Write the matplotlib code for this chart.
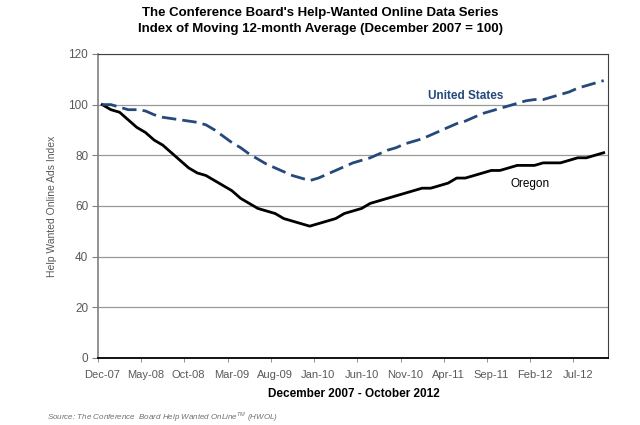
import numpy as np
import matplotlib
matplotlib.use("Agg")
import matplotlib.pyplot as plt

plt.rcParams['font.family'] = ['Liberation Sans', 'DejaVu Sans']

# month labels, Dec-07 .. Oct-12 (59 months)
months = ["Dec-07", "Jan-08", "Feb-08", "Mar-08", "Apr-08", "May-08", "Jun-08", "Jul-08",
          "Aug-08", "Sep-08", "Oct-08", "Nov-08", "Dec-08", "Jan-09", "Feb-09", "Mar-09",
          "Apr-09", "May-09", "Jun-09", "Jul-09", "Aug-09", "Sep-09", "Oct-09", "Nov-09",
          "Dec-09", "Jan-10", "Feb-10", "Mar-10", "Apr-10", "May-10", "Jun-10", "Jul-10",
          "Aug-10", "Sep-10", "Oct-10", "Nov-10", "Dec-10", "Jan-11", "Feb-11", "Mar-11",
          "Apr-11", "May-11", "Jun-11", "Jul-11", "Aug-11", "Sep-11", "Oct-11", "Nov-11",
          "Dec-11", "Jan-12", "Feb-12", "Mar-12", "Apr-12", "May-12", "Jun-12", "Jul-12",
          "Aug-12", "Sep-12", "Oct-12"]

oregon = [100, 98, 97, 94, 91, 89, 86, 84, 81, 78, 75, 73, 72, 70, 68, 66, 63, 61, 59, 58,
          57, 55, 54, 53, 52, 53, 54, 55, 57, 58, 59, 61, 62, 63, 64, 65, 66, 67, 67, 68,
          69, 71, 71, 72, 73, 74, 74, 75, 76, 76, 76, 77, 77, 77, 78, 79, 79, 80, 81]

united_states = [100, 100, 99, 98, 98, 97.5, 96, 95, 94.5, 94, 93.5, 93, 92, 90, 87.5, 85,
                 83, 80.5, 78.5, 76.5, 75, 73.5, 72, 71, 70, 71, 72.5, 74, 75.5, 77, 78, 79,
                 80.5, 82, 83, 84.5, 85.5, 86.5, 88, 89.5, 91, 92.5, 93.5, 95, 96.5, 97.5,
                 98.5, 99.5, 100.5, 101.5, 102, 102, 103, 104, 105, 106.5, 107.5, 108.5, 109.5]

y_ticks = [0, 20, 40, 60, 80, 100, 120]

gray = "#595959"
us_color = "#24497A"

fig = plt.figure(figsize=(6.4, 4.25), dpi=100)
ax = fig.add_axes([0.153, 0.158, 0.797, 0.715])

x = np.arange(len(months))
ax.plot(x, oregon, color="black", linewidth=2.0, solid_joinstyle="round")
ax.plot(x, united_states, color=us_color, linewidth=2.0, dashes=(5.2, 2.2))

ax.set_xlim(-0.5, len(months) - 0.5)
ax.set_ylim(0, 120)

# horizontal gridlines
ax.set_yticks(y_ticks)
ax.set_yticklabels([str(v) for v in y_ticks], color=gray, fontsize=8.5)
ax.yaxis.grid(True, color="#999999", linewidth=0.9)
ax.set_axisbelow(True)

# x labels centred on categories, tick marks between them
lab_pos = x[::5]
ax.set_xticks(lab_pos)
ax.set_xticklabels([months[i] for i in lab_pos], color=gray, fontsize=8)
ax.tick_params(axis="x", length=0, pad=9)
ax.set_xticks(lab_pos - 0.5, minor=True)
ax.tick_params(axis="x", which="minor", length=3, direction="out", color="#808080")
ax.tick_params(axis="y", length=4, direction="out", color="#808080", pad=3)

ax.spines["left"].set_color("#808080")
ax.spines["left"].set_linewidth(1.2)
ax.spines["bottom"].set_color("black")
ax.spines["bottom"].set_linewidth(1.3)
ax.spines["right"].set_color("#404040")
ax.spines["top"].set_color("#404040")

ax.set_ylabel("Help Wanted Online Ads Index", color=gray, fontsize=7.5, labelpad=8)

ax.text(42, 103.5, "United States", color=us_color, fontsize=8.5, fontweight="bold",
        ha="center", va="center")
ax.text(49.5, 68.5, "Oregon", color="black", fontsize=8.5,
        ha="center", va="center")

fig.text(0.5, 0.970, "The Conference Board's Help-Wanted Online Data Series",
         ha="center", va="center", fontsize=9.5, fontweight="bold")
fig.text(0.5, 0.932, "Index of Moving 12-month Average (December 2007 = 100)",
         ha="center", va="center", fontsize=9.5, fontweight="bold")

fig.text(0.553, 0.072, "December 2007 - October 2012", ha="center", va="center",
         fontsize=8.5, fontweight="bold")

fig.text(0.073, 0.019, r"Source: The Conference  Board Help Wanted OnLine$^{\mathregular{TM}}$ (HWOL)",
         ha="left", va="center", fontsize=5.8, style="italic", color="#707070")

fig.savefig("out.png", dpi=100)
